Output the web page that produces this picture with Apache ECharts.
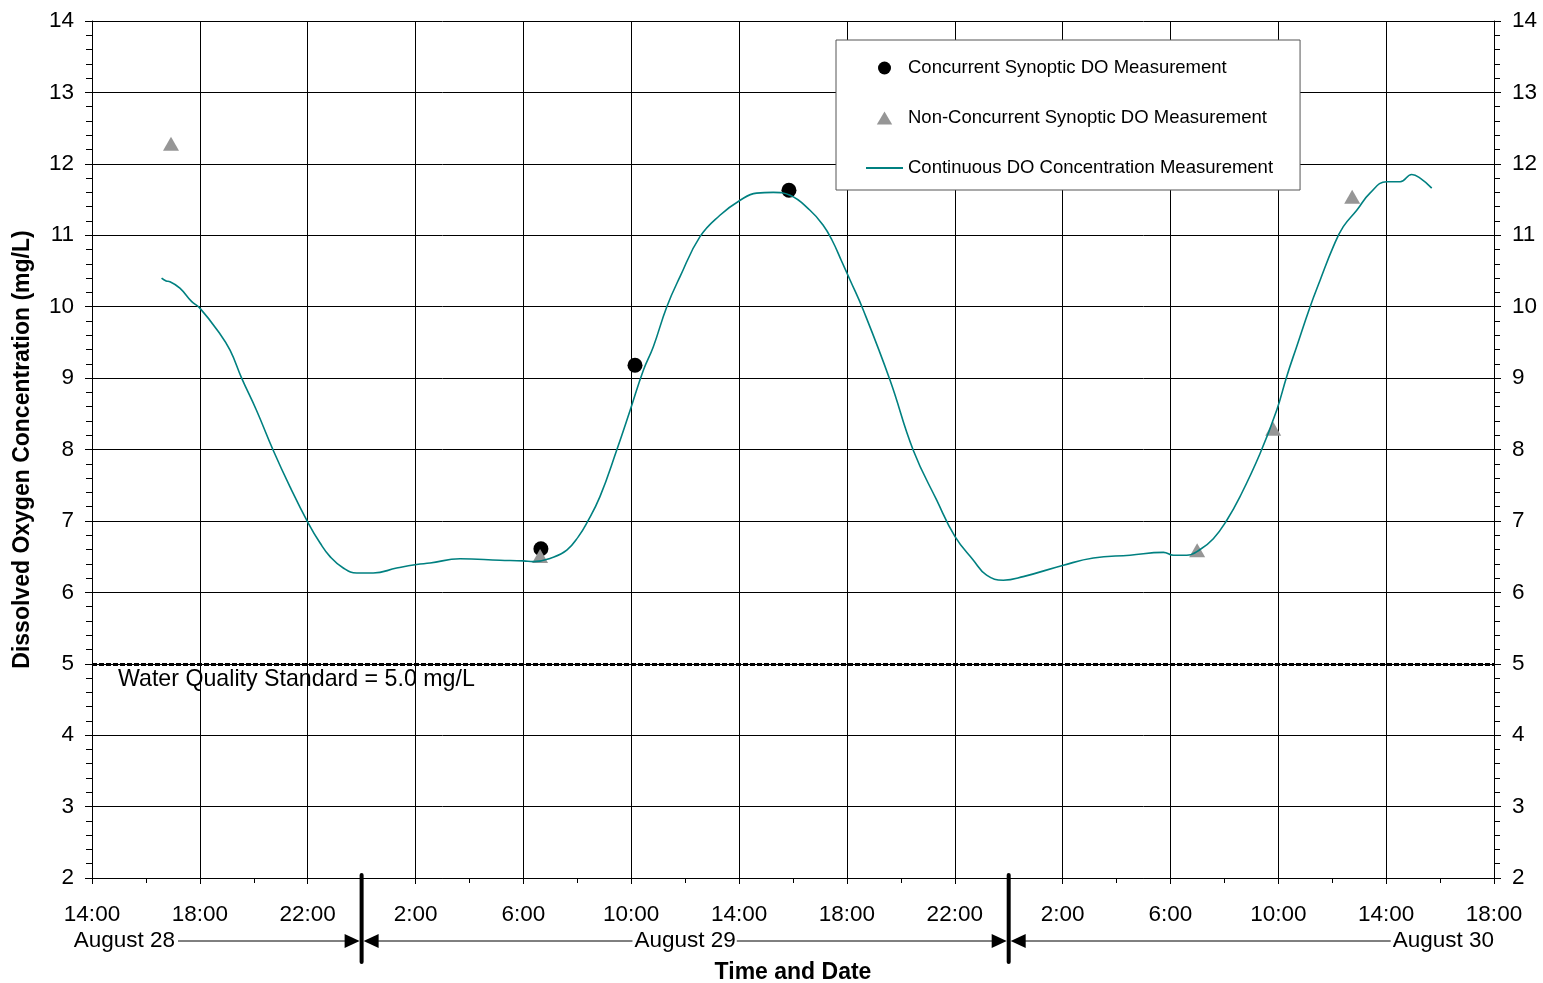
<!DOCTYPE html>
<html><head><meta charset="utf-8">
<script src="https://cdn.jsdelivr.net/npm/echarts@6/dist/echarts.min.js"></script>
<style>html,body{margin:0;padding:0;background:#fff;overflow:hidden}#c{width:1543px;height:983px}</style>
</head><body><div id="c"></div>
<script>
// Hours since 14:00 on August 28
const tickLabels = ["14:00","18:00","22:00","2:00","6:00","10:00","14:00","18:00","22:00","2:00","6:00","10:00","14:00","18:00"];
const dateLabels = ["August 28","August 29","August 30"];
const midnightHours = [10, 34];

const lineHours = [2.58,2.75,2.89,3.26,3.70,4.00,4.69,5.12,5.55,6.10,6.72,7.34,8.02,8.46,8.83,9.32,9.82,10.43,11.30,12.04,12.54,13.65,15.13,16.00,16.37,17.11,17.61,18.04,18.35,18.84,19.46,19.96,20.45,20.82,21.32,21.81,22.55,23.29,24.04,24.65,25.27,25.89,26.63,27.10,27.45,27.80,28.12,28.61,29.60,30.46,31.33,32.01,32.69,33.18,33.80,34.54,36.03,37.14,38.50,39.74,40.11,40.60,41.10,41.59,42.09,42.58,43.32,43.94,44.31,44.68,45.18,45.55,46.04,46.41,46.91,47.40,48.02,48.52,48.95,49.26,49.69];
const lineValues = [10.40,10.36,10.35,10.26,10.07,9.98,9.65,9.39,9.00,8.55,7.99,7.48,6.97,6.69,6.50,6.34,6.27,6.27,6.34,6.39,6.41,6.47,6.45,6.44,6.43,6.49,6.59,6.78,6.97,7.34,7.99,8.55,9.11,9.44,10.00,10.42,10.98,11.28,11.49,11.59,11.60,11.56,11.35,11.15,10.93,10.64,10.37,9.95,8.97,7.99,7.29,6.78,6.45,6.24,6.17,6.22,6.38,6.48,6.52,6.56,6.52,6.52,6.60,6.75,7.01,7.34,7.94,8.55,9.02,9.44,10.00,10.37,10.84,11.12,11.35,11.59,11.75,11.75,11.85,11.80,11.66];

const concurrentHours = [16.65, 20.14, 25.85];
const concurrentValues = [6.61, 9.18, 11.63];

const nonConcurrentHours = [2.93, 16.62, 40.99, 43.81, 46.74];
const nonConcurrentValues = [12.28, 6.51, 6.59, 8.29, 11.54];

const standardValue = 5.0;
const standardLabel = "Water Quality Standard = 5.0 mg/L";

const FONT = '"Liberation Sans", Arial, sans-serif';
const zip = (a, b) => a.map((x, i) => [x, b[i]]);

const chart = echarts.init(document.getElementById('c'), null, {renderer: 'canvas'});

const yAxisBase = {
  type: 'value', min: 2, max: 14, interval: 1,
  axisLine: {show: true, onZero: false, lineStyle: {color: '#000', width: 1}},
  axisTick: {show: true, length: 7, lineStyle: {color: '#000'}},
  minorTick: {show: true, splitNumber: 5, length: 6, lineStyle: {color: '#000'}},
  axisLabel: {color: '#000', fontSize: 22.5, fontFamily: FONT, margin: 18},
};

const option = {
  animation: false,
  backgroundColor: '#fff',
  grid: {left: 92, right: 49, top: 21, bottom: 105, containLabel: false, outerBoundsMode: 'none'},
  legend: {
    orient: 'vertical', left: 836, top: 40,
    padding: [17, 27, 11, 30], itemGap: 28, itemWidth: 37, itemHeight: 13,
    backgroundColor: '#fff', borderColor: '#555', borderWidth: 1, borderRadius: 0,
    symbolKeepAspect: true,
    textStyle: {color: '#000', fontSize: 18.5, fontFamily: FONT, lineHeight: 22},
    data: [
      {name: 'Concurrent Synoptic DO Measurement', icon: 'circle'},
      {name: 'Non-Concurrent Synoptic DO Measurement', icon: 'path://M0,11L6.5,0L13,11Z'},
      {name: 'Continuous DO Concentration Measurement', icon: 'path://M0,0L37,0L37,1.8L0,1.8Z'}
    ]
  },
  xAxis: {
    type: 'value', min: 0, max: 52, interval: 4,
    axisLine: {show: true, onZero: false, lineStyle: {color: '#000', width: 1}},
    axisTick: {show: true, length: 6, lineStyle: {color: '#000'}},
    minorTick: {show: true, splitNumber: 2, length: 5, lineStyle: {color: '#000'}},
    axisLabel: {color: '#000', fontSize: 22.5, fontFamily: FONT, margin: 25,
      formatter: v => tickLabels[Math.round(v / 4)]},
    splitLine: {show: true, lineStyle: {color: '#000', width: 1}},
    name: 'Time and Date', nameLocation: 'middle', nameGap: 83,
    nameTextStyle: {color: '#000', fontSize: 23, fontWeight: 'bold', fontFamily: FONT}
  },
  yAxis: [
    Object.assign({}, yAxisBase, {
      position: 'left',
      splitLine: {show: true, lineStyle: {color: '#000', width: 1}},
      name: 'Dissolved Oxygen Concentration (mg/L)', nameLocation: 'middle', nameGap: 58, nameRotate: 90,
      nameTextStyle: {color: '#000', fontSize: 23, fontWeight: 'bold', fontFamily: FONT}
    }),
    Object.assign({}, yAxisBase, {position: 'right', splitLine: {show: false}})
  ],
  series: [
    {
      name: 'Concurrent Synoptic DO Measurement', type: 'scatter',
      data: zip(concurrentHours, concurrentValues),
      symbol: 'circle', symbolSize: 15, itemStyle: {color: '#000', opacity: 1}
    },
    {
      name: 'Non-Concurrent Synoptic DO Measurement', type: 'scatter',
      data: zip(nonConcurrentHours, nonConcurrentValues),
      symbol: 'triangle', symbolSize: [16, 14], itemStyle: {color: '#969696', opacity: 1}
    },
    {
      name: 'Continuous DO Concentration Measurement', type: 'line',
      data: zip(lineHours, lineValues),
      symbol: 'none', smooth: 0.45,
      lineStyle: {color: '#008080', width: 1.6}, itemStyle: {color: '#008080'},
      markLine: {
        silent: true, symbol: 'none',
        label: {show: false},
        lineStyle: {color: '#000', width: 3, type: [5, 2]},
        data: [{yAxis: standardValue}]
      }
    }
  ]
};
chart.setOption(option);

// Annotation graphics: standard label and date arrows beneath the axis
const xp = h => chart.convertToPixel({xAxisIndex: 0}, h);
const yp = v => chart.convertToPixel({yAxisIndex: 0}, v);
const x0 = xp(0), xEnd = xp(52);
const yAxisPx = yp(2);
const rowY = yAxisPx + 63;
const measure = (() => {
  const c = document.createElement('canvas').getContext('2d');
  c.font = '22.5px ' + FONT;
  return t => c.measureText(t).width;
})();
const gfx = [];
gfx.push({type: 'text', x: x0 + 26, y: yp(standardValue) + 16,
  style: {text: standardLabel, fill: '#000', font: '23.2px ' + FONT, textVerticalAlign: 'middle', textAlign: 'left'}});

const b1 = xp(midnightHours[0]), b2 = xp(midnightHours[1]);
const w29 = measure(dateLabels[1]), w30 = measure(dateLabels[2]);
const t28R = x0 + 83, t29C = (b1 + b2) / 2, t30R = xEnd;
gfx.push({type: 'text', x: t28R, y: rowY, style: {text: dateLabels[0], fill: '#000', font: '22.5px ' + FONT, textAlign: 'right', textVerticalAlign: 'middle'}});
gfx.push({type: 'text', x: t29C, y: rowY, style: {text: dateLabels[1], fill: '#000', font: '22.5px ' + FONT, textAlign: 'center', textVerticalAlign: 'middle'}});
gfx.push({type: 'text', x: t30R, y: rowY, style: {text: dateLabels[2], fill: '#000', font: '22.5px ' + FONT, textAlign: 'right', textVerticalAlign: 'middle'}});
const seg = (xa, xb) => gfx.push({type: 'line', shape: {x1: xa, y1: rowY, x2: xb, y2: rowY}, style: {stroke: '#000', lineWidth: 1}});
seg(t28R + 3, b1 - 16);
seg(b1 + 16, t29C - w29 / 2 - 2);
seg(t29C + w29 / 2 + 1, b2 - 16);
seg(b2 + 16, t30R - w30 - 2);
[b1, b2].forEach(b => {
  gfx.push({type: 'line', shape: {x1: b, y1: yAxisPx - 3, x2: b, y2: yAxisPx + 84}, style: {stroke: '#000', lineWidth: 4, lineCap: 'round'}});
  gfx.push({type: 'polygon', shape: {points: [[b - 2, rowY], [b - 17, rowY - 7], [b - 17, rowY + 7]]}, style: {fill: '#000'}});
  gfx.push({type: 'polygon', shape: {points: [[b + 2, rowY], [b + 17, rowY - 7], [b + 17, rowY + 7]]}, style: {fill: '#000'}});
});
chart.setOption({graphic: gfx});
</script>
</body></html>
